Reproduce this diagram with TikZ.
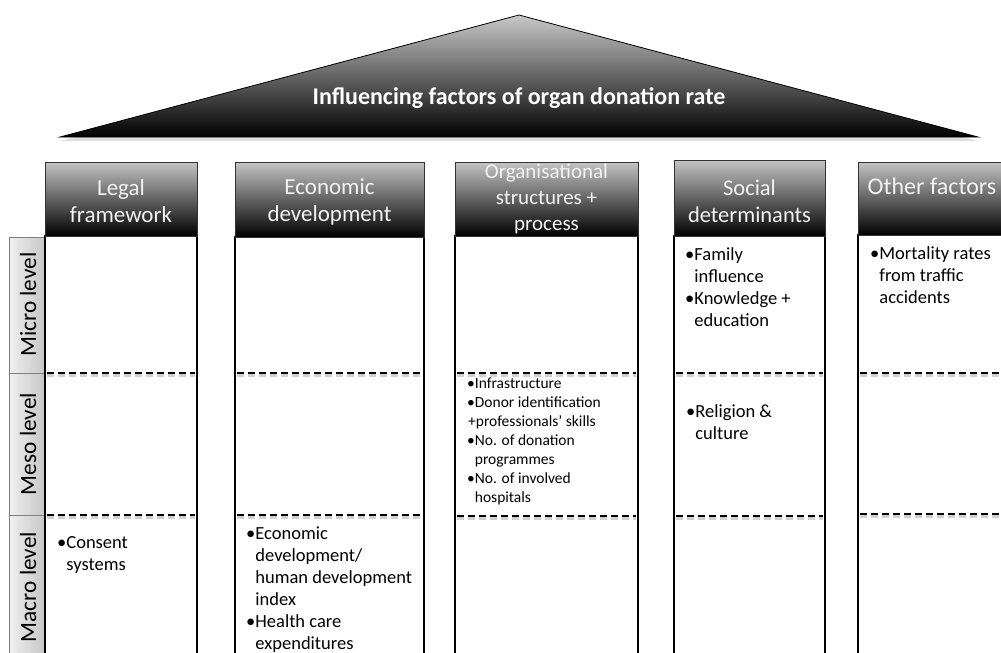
\documentclass[tikz,border=0pt]{standalone}
\usepackage{fontspec}
\setmainfont{Carlito}
\usetikzlibrary{shadows}
\definecolor{hdrtop}{HTML}{C4C4C4}
\definecolor{hdrmid}{HTML}{7A7A7A}
\definecolor{hdrbot}{HTML}{000000}
\definecolor{rooftop}{HTML}{C8C8C8}
\definecolor{roofmid}{HTML}{808080}
\definecolor{hdrtext}{HTML}{F2F2F2}
\definecolor{lvlleft}{HTML}{F0F0F0}
\definecolor{lvlright}{HTML}{C6C6C6}
\definecolor{lvlborder}{HTML}{808080}
\tikzset{
  hdrbox/.style={draw=black!80, line width=0.7pt, top color=hdrtop, middle color=hdrmid, bottom color=hdrbot},
  hdrlabel/.style={text=hdrtext, align=center, inner sep=0pt, anchor=base},
  bodybox/.style={draw=black, line width=2.8pt, fill=white},
  sepline/.style={draw=black, line width=2.8pt, dash pattern=on 7pt off 4pt},
  sepshadow/.style={draw=black, opacity=0.18, line width=3pt, dash pattern=on 7pt off 4pt},
  lvlbox/.style={draw=lvlborder, line width=0.8pt, left color=lvlleft, right color=lvlright},
  lvltext/.style={rotate=90, anchor=base, inner sep=0pt, font=\fontsize{23.3}{28}\selectfont},
  celltext/.style={align=left, anchor=base west, inner sep=0pt, font=\fontsize{18.5}{22}\selectfont},
  smalltext/.style={align=left, anchor=base west, inner sep=0pt, font=\fontsize{15.5}{19}\selectfont},
}
\begin{document}
\begin{tikzpicture}[x=1pt,y=-1pt]
\useasboundingbox (0,0) rectangle (1001,653);
\clip (0,0) rectangle (1001,653);

% roof
\path[draw=black, line width=0.8pt, top color=rooftop, middle color=roofmid, bottom color=black,
      drop shadow={shadow xshift=0pt, shadow yshift=-4pt, opacity=0.25}]
  (60,137) -- (519,15) -- (978,137) -- cycle;
\node[font=\bfseries\fontsize{24}{28}\selectfont, text=white, anchor=base, inner sep=0pt] (title) at (519,104) {Influencing factors of organ donation rate};

% level boxes
\path[lvlbox] (9,237) rectangle (45,373);
\path[lvlbox] (9,373) rectangle (45,515);
\path[lvlbox] (9,515) rectangle (45,670);
\node[lvltext] (micro) at (36,304.5) {Micro level};
\node[lvltext] (meso) at (36,444) {Meso level};
\node[lvltext] (macro) at (36,587) {Macro level};

% column bodies
\path[bodybox] (45,236) rectangle (197,670);
\path[bodybox] (235,237) rectangle (424,670);
\path[bodybox] (455,236) rectangle (638,670);
\path[bodybox] (674,236) rectangle (825,670);
\path[bodybox] (858,235) rectangle (1008,670);

% dashed separators (with faint shadow)
\foreach \xa/\xb/\ya/\yb in {47/195/373/515, 237/422/373/515, 457/636/373/516, 676/823/373/516, 860/1001/373/514}{
  \draw[sepshadow] (\xa,\ya+2.5) -- (\xb,\ya+2.5);
  \draw[sepshadow] (\xa,\yb+2.5) -- (\xb,\yb+2.5);
  \draw[sepline] (\xa,\ya) -- (\xb,\ya);
  \draw[sepline] (\xa,\yb) -- (\xb,\yb);
}

% headers
\path[hdrbox] (45,162) rectangle (197,236);
\path[hdrbox] (235,162) rectangle (424,237);
\path[hdrbox] (455,162) rectangle (638,236);
\path[hdrbox] (674,160) rectangle (825,236);
\path[hdrbox] (858,162) rectangle (1008,235);

\node[hdrlabel, font=\fontsize{23}{27}\selectfont] (h1) at (121,222) {Legal\\framework};
\node[hdrlabel, font=\fontsize{23}{27}\selectfont] (h2) at (329.5,221) {Economic\\development};
\node[hdrlabel, font=\fontsize{21}{26}\selectfont] (h3) at (546.5,230) {Organisational\\structures +\\process};
\node[hdrlabel, font=\fontsize{22.5}{27}\selectfont] (h4) at (749.5,222) {Social\\determinants};
\node[hdrlabel, font=\fontsize{24}{28}\selectfont] (h5) at (932,194) {Other factors};

% cell contents
\node[celltext] (c1macro) at (57,570) {•Consent\\\hphantom{•}systems};
\node[celltext] (c2macro) at (246,649) {•Economic\\\hphantom{•}development/\\\hphantom{•}human development\\\hphantom{•}index\\•Health care\\\hphantom{•}expenditures};
\node[smalltext] (c3meso) at (467,502) {•Infrastructure\\•Donor identification\\\hspace{1pt}+professionals’ skills\\•No. of donation\\\hphantom{•}programmes\\•No. of involved\\\hphantom{•}hospitals};
\node[celltext] (c4micro) at (685,326) {•Family\\\hphantom{•}influence\\•Knowledge +\\\hphantom{•}education};
\node[celltext] (c4meso) at (686,439) {•Religion \&\\\hphantom{•}culture};
\node[celltext] (c5micro) at (870,303) {•Mortality rates\\\hphantom{•}from traffic\\\hphantom{•}accidents};
\end{tikzpicture}
\end{document}
